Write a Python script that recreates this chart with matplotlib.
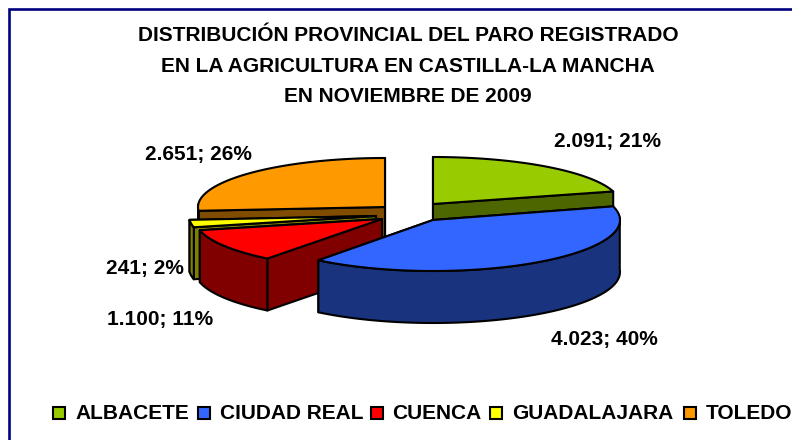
import numpy as np
from matplotlib import pyplot as plt
from matplotlib.patches import Polygon, Rectangle

provinces = ['ALBACETE', 'CIUDAD REAL', 'CUENCA', 'GUADALAJARA', 'TOLEDO']
parados = [2091, 4023, 1100, 241, 2651]
labels = ['2.091; 21%', '4.023; 40%', '1.100; 11%', '241; 2%', '2.651; 26%']
title_lines = ['DISTRIBUCIÓN PROVINCIAL DEL PARO REGISTRADO',
               'EN LA AGRICULTURA EN CASTILLA-LA MANCHA',
               'EN NOVIEMBRE DE 2009']

top_colors = ['#99CC00', '#3366FF', '#FF0000', '#FFFF00', '#FF9900']
side_colors = ['#4D6600', '#19337F', '#800000', '#808000', '#804D00']

# layout in pixels of the 792x440 picture
apex = [(433, 204), (433, 220), (382, 219), (376, 216), (385, 207)]
radius_y = [47, 51, 50, 50, 49]
radius_x = 187
depth = 52
draw_order = [4, 0, 3, 2, 1]  # back to front
label_pos = [(608, 147), (604, 345), (160, 325), (145, 274), (198, 160)]
legend_box_x = [53, 198, 371, 490, 684]
legend_text_x = [75, 220, 392, 512, 706]
line_w = 1.5


def rim(i, a0, a1):
    t = np.linspace(a0, a1, 80)
    x = apex[i][0] + radius_x * np.sin(t)
    y = apex[i][1] - radius_y[i] * np.cos(t)
    return np.column_stack([x, y])


def draw_slice(ax, i, a0, a1):
    cx, cy = apex[i]
    down = np.array([0, depth])
    edge = rim(i, a0, a1)
    face = dict(fc=side_colors[i], ec='black', lw=line_w, joinstyle='round')
    # cut faces first (the one further back before the other), then wall, then top
    ends = sorted([edge[0], edge[-1]], key=lambda p: p[1])
    for p in ends:
        ax.add_patch(Polygon([(cx, cy), p, p + down, (cx, cy + depth)], **face))
    # only the part of the rim that faces the viewer has a wall
    t = np.linspace(a0, a1, 80)
    front = edge[np.cos(t) < 0.05]
    if len(front) > 1:
        ax.add_patch(Polygon(np.vstack([front, (front + down)[::-1]]), **face))
    ax.add_patch(Polygon(np.vstack([[(cx, cy)], edge]), fc=top_colors[i], ec='black', lw=line_w, joinstyle='round'))


def main():
    plt.rcParams['font.family'] = ['Liberation Sans']
    fig = plt.figure(figsize=(7.92, 4.4), dpi=100)
    ax = fig.add_axes([0, 0, 1, 1])
    ax.set_xlim(0, 792)
    ax.set_ylim(440, 0)
    ax.axis('off')

    ax.add_patch(Rectangle((9, 9), 800, 440, fc='white', ec='#000080', lw=1.9))

    angles = np.cumsum([0] + parados) / sum(parados) * 2 * np.pi
    for i in draw_order:
        draw_slice(ax, i, angles[i], angles[i + 1])

    for line, y in zip(title_lines, [41, 72, 102]):
        ax.text(408, y, line, ha='center', va='baseline', fontsize=15, fontweight='bold')
    for text, (x, y) in zip(labels, label_pos):
        ax.text(x, y, text, ha='center', va='baseline', fontsize=15, fontweight='bold')
    for i, name in enumerate(provinces):
        ax.add_patch(Rectangle((legend_box_x[i], 407), 12, 12, fc=top_colors[i], ec='black', lw=line_w))
        ax.text(legend_text_x[i], 419, name, ha='left', va='baseline', fontsize=15, fontweight='bold')

    plt.savefig('out.png', dpi=100)


if __name__ == '__main__':
    main()
